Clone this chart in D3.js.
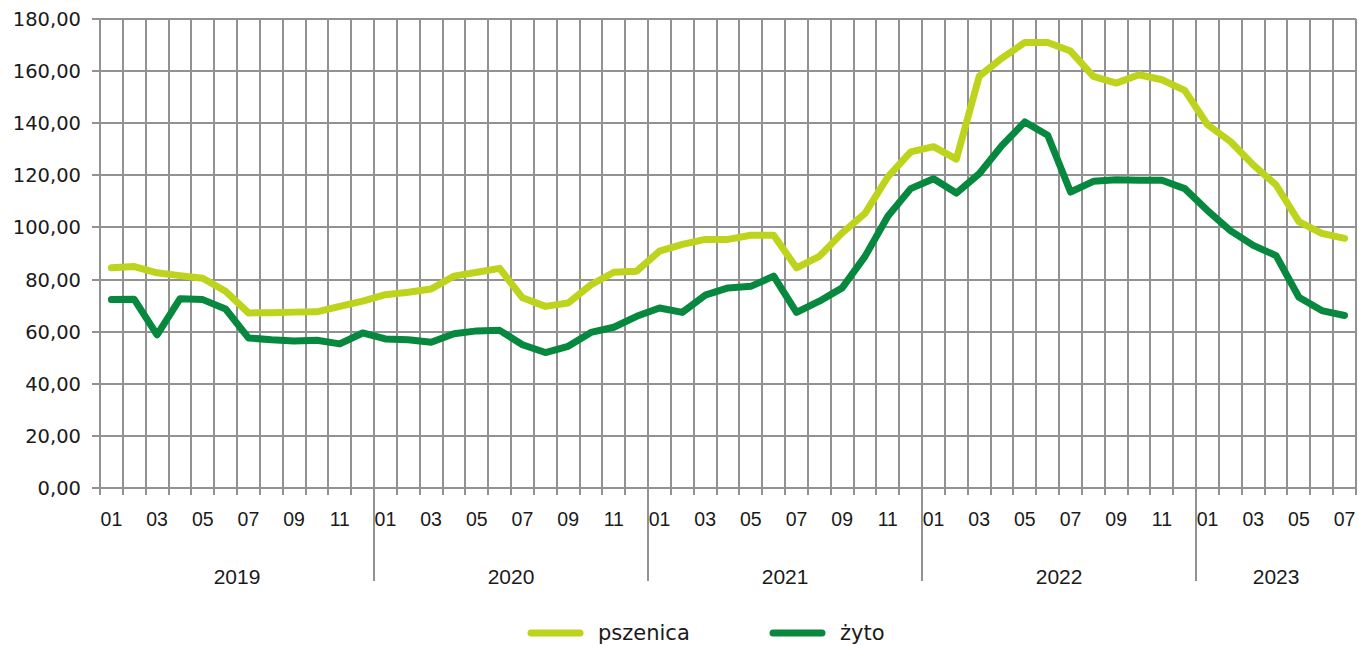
<!DOCTYPE html>
<html>
<head>
<meta charset="utf-8">
<script src="https://cdn.jsdelivr.net/npm/d3@7"></script>
<style>
  body { margin: 0; background: #fff; }
  svg { display: block; }
  .grid line { stroke: #929292; stroke-width: 1.5; shape-rendering: crispEdges; }
  .ylab { font-family: "DejaVu Sans", sans-serif; font-size: 19.5px; fill: #1a1a1a; }
  .mlab { font-family: "Liberation Sans", Arial, sans-serif; font-size: 19.5px; fill: #1a1a1a; }
  .yrlab { font-family: "Liberation Sans", Arial, sans-serif; font-size: 21px; fill: #1a1a1a; }
  .leg { font-family: "DejaVu Sans", sans-serif; font-size: 21px; fill: #1a1a1a; }
  .series { fill: none; stroke-width: 7; stroke-linejoin: round; stroke-linecap: round; }
</style>
</head>
<body>
<div id="vis"></div>
<script>
var years = ["2019", "2020", "2021", "2022", "2023"];
var monthsInYear = [12, 12, 12, 12, 7];
var yTicks = [0, 20, 40, 60, 80, 100, 120, 140, 160, 180];

var pszenica = [
  84.5, 85.0, 82.6, 81.5, 80.5, 75.5, 67.2, 67.3, 67.5, 67.6, 69.7, 71.7,
  74.2, 75.1, 76.4, 81.3, 82.8, 84.3, 73.0, 69.7, 71.0, 78.0, 82.8, 83.2,
  90.9, 93.5, 95.4, 95.4, 97.0, 97.0, 84.5, 88.9, 97.9, 105.4, 119.4, 129.0,
  131.0, 126.2, 158.0, 165.0, 171.0, 171.0, 167.7, 158.0, 155.4, 158.6, 156.7, 152.6,
  139.4, 133.0, 124.0, 116.3, 102.2, 97.7, 95.8
];
var zyto = [
  72.3, 72.4, 58.8, 72.6, 72.3, 68.7, 57.6, 56.9, 56.4, 56.7, 55.3, 59.5,
  57.2, 56.9, 55.9, 59.2, 60.3, 60.5, 55.0, 52.0, 54.4, 59.7, 61.7, 65.9,
  69.1, 67.4, 74.0, 76.8, 77.4, 81.3, 67.4, 71.7, 76.8, 88.9, 104.3, 114.9,
  118.7, 113.2, 120.6, 131.5, 140.5, 135.4, 113.6, 117.7, 118.3, 118.1, 118.1, 114.9,
  106.5, 98.8, 93.1, 89.2, 73.2, 68.1, 66.2
];
var seriesNames = ["pszenica", "żyto"];
var seriesColors = ["#bed41c", "#07883f"];

// categories "2019-01" ... "2023-07"
var categories = [];
years.forEach(function(y, i) {
  for (var m = 1; m <= monthsInYear[i]; m++) {
    categories.push({ year: y, month: (m < 10 ? "0" : "") + m, key: y + "-" + m });
  }
});

var width = 1359, height = 646;
var plot = { left: 100, right: 1356, top: 19, bottom: 488 };

var svg = d3.select("#vis").append("svg")
  .attr("width", width)
  .attr("height", height);

var x = d3.scaleBand()
  .domain(categories.map(function(d) { return d.key; }))
  .range([plot.left, plot.right])
  .paddingInner(0)
  .paddingOuter(0);

var y = d3.scaleLinear()
  .domain([0, 180])
  .range([plot.bottom, plot.top]);

var bw = x.bandwidth();
var fmt = function(v) { return d3.format(".2f")(v).replace(".", ","); };

// grid
var grid = svg.append("g").attr("class", "grid");

var vx = categories.map(function(d) { return x(d.key); }).concat([plot.right]);
grid.selectAll(".vgrid")
  .data(vx).enter()
  .append("line")
  .attr("x1", function(d) { return Math.round(d); })
  .attr("x2", function(d) { return Math.round(d); })
  .attr("y1", plot.top)
  .attr("y2", plot.bottom + 7);

grid.selectAll(".hgrid")
  .data(yTicks).enter()
  .append("line")
  .attr("x1", plot.left - 8)
  .attr("x2", plot.right)
  .attr("y1", function(d) { return Math.round(y(d)); })
  .attr("y2", function(d) { return Math.round(y(d)); });

// year separators below the axis
grid.selectAll(".ysep")
  .data(years.slice(1)).enter()
  .append("line")
  .attr("x1", function(d) { return Math.round(x(d + "-1")); })
  .attr("x2", function(d) { return Math.round(x(d + "-1")); })
  .attr("y1", plot.bottom)
  .attr("y2", 581);

// y labels
svg.selectAll(".ylab")
  .data(yTicks).enter()
  .append("text")
  .attr("class", "ylab")
  .attr("text-anchor", "end")
  .attr("x", 81)
  .attr("y", function(d) { return y(d); })
  .attr("dy", "0.36em")
  .text(fmt);

// month labels (every second)
svg.selectAll(".mlab")
  .data(categories.filter(function(d, i) { return i % 2 === 0; })).enter()
  .append("text")
  .attr("class", "mlab")
  .attr("text-anchor", "middle")
  .attr("x", function(d) { return x(d.key) + bw / 2; })
  .attr("y", 526)
  .text(function(d) { return d.month; });

// year labels
svg.selectAll(".yrlab")
  .data(years).enter()
  .append("text")
  .attr("class", "yrlab")
  .attr("text-anchor", "middle")
  .attr("x", function(d, i) {
    var a = x(d + "-1");
    var b = x(d + "-" + monthsInYear[i]) + bw;
    return (a + b) / 2;
  })
  .attr("y", 584)
  .text(function(d) { return d; });

// lines
var line = d3.line()
  .x(function(d, i) { return x(categories[i].key) + bw / 2; })
  .y(function(d) { return y(d); });

svg.selectAll(".series")
  .data([pszenica, zyto]).enter()
  .append("path")
  .attr("class", "series")
  .attr("stroke", function(d, i) { return seriesColors[i]; })
  .attr("d", line);

// legend
var legX = [528, 770];
var leg = svg.selectAll(".legitem")
  .data(seriesNames).enter()
  .append("g")
  .attr("transform", function(d, i) { return "translate(" + legX[i] + ",633)"; });

leg.append("line")
  .attr("x1", 3).attr("x2", 52)
  .attr("y1", 0).attr("y2", 0)
  .attr("stroke", function(d, i) { return seriesColors[i]; })
  .attr("stroke-width", 7)
  .attr("stroke-linecap", "round");

leg.append("text")
  .attr("class", "leg")
  .attr("x", 70)
  .attr("y", 0)
  .attr("dy", "0.32em")
  .text(function(d) { return d; });
</script>
</body>
</html>
